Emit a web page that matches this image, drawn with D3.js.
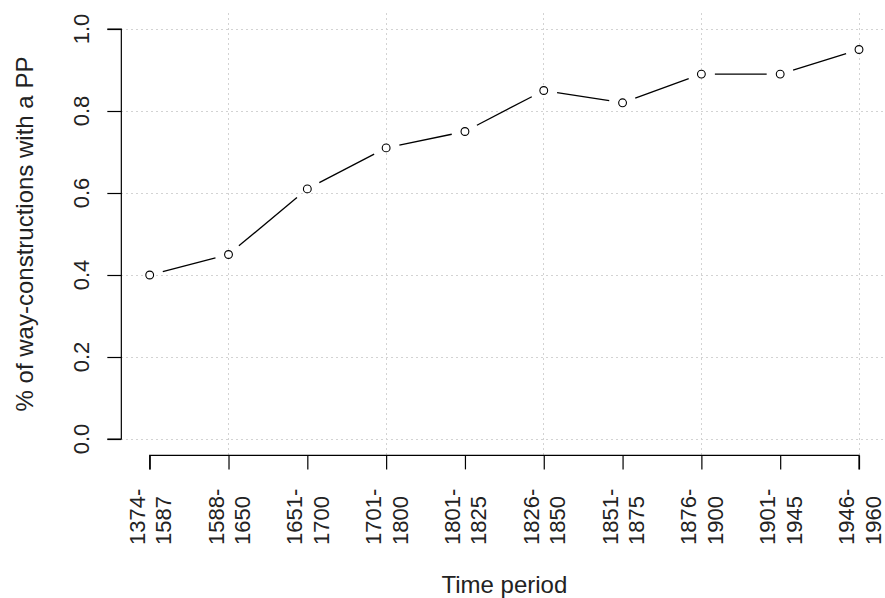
<!DOCTYPE html>
<html>
<head>
<meta charset="utf-8">
<script src="https://cdn.jsdelivr.net/npm/d3@7"></script>
<style>
  html, body { margin: 0; padding: 0; background: #fff; }
  svg { display: block; font-family: "Liberation Sans", Arial, sans-serif; }
</style>
</head>
<body>
<svg id="chart" width="885" height="598"></svg>
<script>
// ---- data ----
const periodStart = ["1374-", "1588-", "1651-", "1701-", "1801-", "1826-", "1851-", "1876-", "1901-", "1946-"];
const periodEnd   = ["1587", "1650", "1700", "1800", "1825", "1850", "1875", "1900", "1945", "1960"];
const shareWithPP = [0.40, 0.45, 0.61, 0.71, 0.75, 0.85, 0.82, 0.89, 0.89, 0.95];
const yTicks = [0.0, 0.2, 0.4, 0.6, 0.8, 1.0];
const yTickLabels = ["0.0", "0.2", "0.4", "0.6", "0.8", "1.0"];
const gridXIndex = [2, 4, 6, 8, 10];
const xTitle = "Time period";
const yTitle = "% of way-constructions with a PP";

// ---- layout ----
const svg = d3.select("#chart");
const idx = d3.range(1, shareWithPP.length + 1);

const x = d3.scaleLinear().domain([1, 10]).range([149.7, 859]);
const y = d3.scaleLinear().domain([0, 1]).range([439, 29]);
// plot region (R usr extended 4%)
const usrX = [0.64, 10.36];
const usrY = [-0.04, 1.04];

const gridColor = "#d3d3d3";
const font = "22px";

// gridlines
svg.append("g").selectAll("line.gy").data(yTicks).join("line")
  .attr("x1", x(usrX[0])).attr("x2", Math.min(885, x(usrX[1])))
  .attr("y1", d => y(d)).attr("y2", d => y(d))
  .attr("stroke", gridColor).attr("stroke-width", 1)
  .attr("stroke-dasharray", "2,3").attr("shape-rendering", "crispEdges");

svg.append("g").selectAll("line.gx").data(gridXIndex).join("line")
  .attr("x1", d => x(d)).attr("x2", d => x(d))
  .attr("y1", y(usrY[1])).attr("y2", y(usrY[0]))
  .attr("stroke", gridColor).attr("stroke-width", 1)
  .attr("stroke-dasharray", "2,3").attr("shape-rendering", "crispEdges");

// y axis
const yAxisX = x(usrX[0]);
const yAx = svg.append("g").attr("transform", `translate(${yAxisX},0)`)
  .call(d3.axisLeft(y).tickValues(yTicks).tickSize(14).tickFormat(""));
yAx.select(".domain").attr("d", `M-14,${y(0)}H0V${y(1)}H-14`).attr("stroke", "#000").attr("stroke-width", 1.2);
yAx.selectAll(".tick line").attr("stroke", "#000").attr("stroke-width", 1.2);

svg.append("g").selectAll("text").data(yTicks).join("text")
  .attr("transform", (d) => `translate(89,${y(d)}) rotate(-90)`)
  .attr("text-anchor", "middle")
  .style("font-size", font).attr("fill", "#222")
  .text((d, i) => yTickLabels[i]);

// x axis
const xAxisY = y(usrY[0]);
const xAx = svg.append("g").attr("transform", `translate(0,${xAxisY})`)
  .call(d3.axisBottom(x).tickValues(idx).tickSize(14).tickFormat(""));
xAx.select(".domain").attr("d", `M${x(1)},14V0H${x(10)}V14`).attr("stroke", "#000").attr("stroke-width", 1.2);
xAx.selectAll(".tick line").attr("stroke", "#000").attr("stroke-width", 1.2);

const xl = svg.append("g").selectAll("g").data(idx).join("g")
  .attr("transform", d => `translate(${x(d)},545) rotate(-90)`);
xl.append("text").attr("x", 0).attr("y", -5).attr("text-anchor", "start")
  .style("font-size", font).attr("fill", "#222").text((d, i) => periodStart[i]);
xl.append("text").attr("x", 0).attr("y", 21.5).attr("text-anchor", "start")
  .style("font-size", font).attr("fill", "#222").text((d, i) => periodEnd[i]);

// titles
svg.append("text")
  .attr("x", (x(usrX[0]) + x(usrX[1])) / 2).attr("y", 593)
  .attr("text-anchor", "middle").style("font-size", "24px").attr("fill", "#222")
  .text(xTitle);
svg.append("text")
  .attr("transform", `translate(33,${(y(usrY[0]) + y(usrY[1])) / 2}) rotate(-90)`)
  .attr("text-anchor", "middle").style("font-size", "24px").attr("fill", "#222")
  .text(yTitle);

// line with gaps (type = "b")
const gap = 13.5;
const pts = shareWithPP.map((v, i) => [x(idx[i]), y(v)]);
const segs = d3.pairs(pts).map(([a, b]) => {
  const dx = b[0] - a[0], dy = b[1] - a[1];
  const L = Math.hypot(dx, dy);
  const ux = dx / L, uy = dy / L;
  return [[a[0] + ux * gap, a[1] + uy * gap], [b[0] - ux * gap, b[1] - uy * gap]];
});
svg.append("g").selectAll("path").data(segs).join("path")
  .attr("d", d => d3.line()(d))
  .attr("stroke", "#000").attr("stroke-width", 1.3).attr("fill", "none");

svg.append("g").selectAll("circle").data(shareWithPP).join("circle")
  .attr("cx", (d, i) => x(idx[i])).attr("cy", d => y(d))
  .attr("r", 3.9).attr("fill", "#fff").attr("stroke", "#000").attr("stroke-width", 1.1);
</script>
</body>
</html>
